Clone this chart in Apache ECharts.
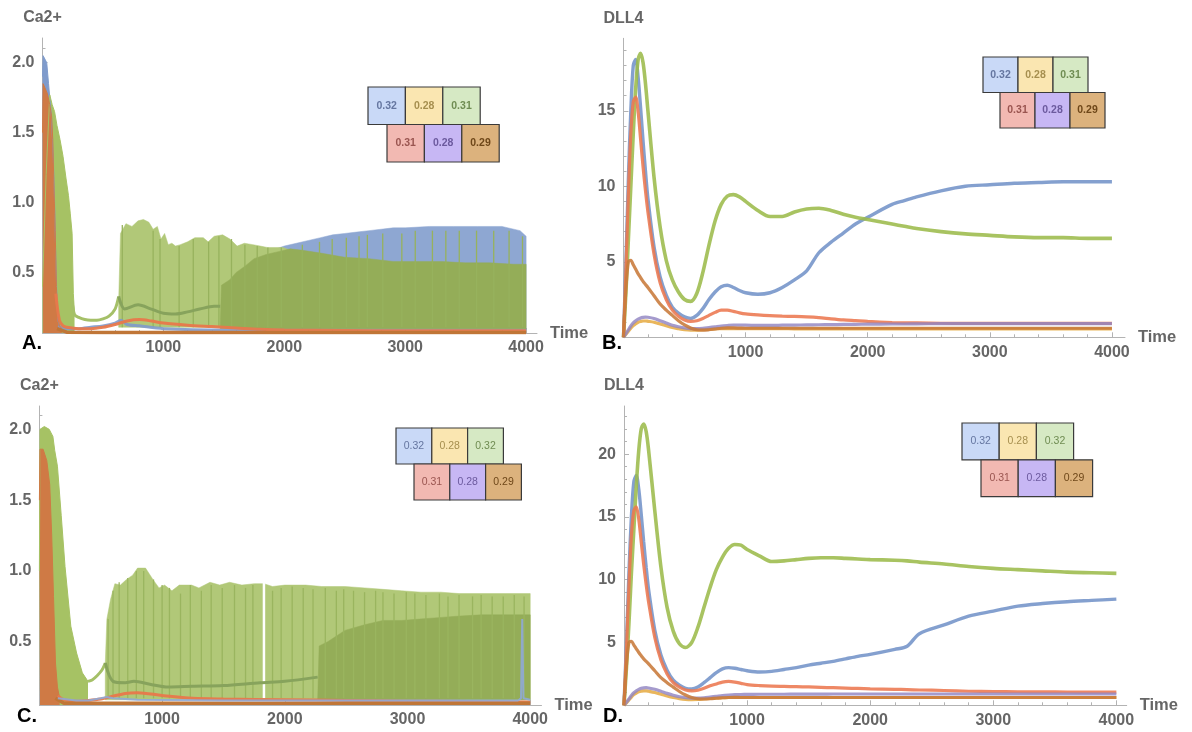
<!DOCTYPE html>
<html>
<head>
<meta charset="utf-8">
<title>Ca2+ / DLL4</title>
<script src="https://cdn.jsdelivr.net/npm/echarts@6/dist/echarts.min.js"></script>
<style>
html,body{margin:0;padding:0;background:#fff;}
#main{width:1192px;height:732px;}
</style>
</head>
<body>
<div id="main"></div>
<script>
// ---- tick labels ----
var xTicks = [1000, 2000, 3000, 4000];
var xMinorTicks = [200, 400, 600, 800, 1200, 1400, 1600, 1800, 2200, 2400, 2600, 2800, 3200, 3400, 3600, 3800];
var yTicksCa = [0.5, 1.0, 1.5, 2.0];
var yMinorCa = [0.1, 0.2, 0.3, 0.4, 0.6, 0.7, 0.8, 0.9, 1.1, 1.2, 1.3, 1.4, 1.6, 1.7, 1.8, 1.9, 2.1];
var yTicksB = [5, 10, 15];
var yMinorB = [1, 2, 3, 4, 6, 7, 8, 9, 11, 12, 13, 14, 16, 17, 18, 19];
var yTicksD = [5, 10, 15, 20];
var yMinorD = [1, 2, 3, 4, 6, 7, 8, 9, 11, 12, 13, 14, 16, 17, 18, 19, 21, 22, 23];

// ---- legends (labels per panel) ----
var legendA = ['0.32', '0.28', '0.31', '0.31', '0.28', '0.29'];
var legendB = ['0.32', '0.28', '0.31', '0.31', '0.28', '0.29'];
var legendC = ['0.32', '0.28', '0.32', '0.31', '0.28', '0.29'];
var legendD = ['0.32', '0.28', '0.32', '0.31', '0.28', '0.29'];

// ---- DLL4 panels (B, D): shared time grid ----
var timeBD = [0, 20, 40, 60, 80, 100, 120, 140, 160, 180,
  200, 250, 300, 350, 400, 450, 500, 550, 600, 650,
  700, 750, 800, 850, 900, 950, 1000, 1100, 1200, 1300,
  1400, 1500, 1600, 1700, 1800, 1900, 2000, 2200, 2300, 2400,
  2600, 2800, 3000, 3200, 3400, 3600, 3800, 4000];

var blueB = [0, 5, 10.5, 15, 18, 18.4, 17.2, 15.2, 13, 11,
  9.2, 6, 4, 2.8, 2.0, 1.6, 1.35, 1.25, 1.45, 1.9,
  2.5, 3.0, 3.35, 3.45, 3.3, 3.1, 2.95, 2.85, 2.95, 3.3,
  3.8, 4.4, 5.6, 6.3, 6.9, 7.5, 7.95, 8.8, 9.05, 9.3,
  9.7, 10.0, 10.1, 10.2, 10.25, 10.3, 10.3, 10.3];
var yellowB = [0, 0.2, 0.4, 0.6, 0.78, 0.9, 1.0, 1.05, 1.08, 1.08,
  1.06, 1.0, 0.88, 0.76, 0.65, 0.57, 0.5, 0.47, 0.47, 0.5,
  0.53, 0.56, 0.58, 0.58, 0.58, 0.58, 0.58, 0.57, 0.57, 0.57,
  0.56, 0.56, 0.56, 0.56, 0.56, 0.56, 0.56, 0.56, 0.56, 0.56,
  0.56, 0.56, 0.56, 0.56, 0.56, 0.56, 0.56, 0.56];
var greenB = [0, 3, 6.5, 10, 13.5, 16.5, 18.4, 18.8, 18.2, 16.8,
  15, 10.6, 7.3, 5.1, 3.8, 3.0, 2.5, 2.38, 2.9, 4.3,
  6.1, 7.7, 8.8, 9.35, 9.45, 9.3, 9.0, 8.4, 8.0, 8.0,
  8.3, 8.5, 8.55, 8.4, 8.15, 7.95, 7.8, 7.5, 7.35, 7.2,
  7.0, 6.85, 6.75, 6.65, 6.6, 6.6, 6.55, 6.55];
var redB = [0, 4.5, 9.5, 13.5, 15.6, 15.9, 14.9, 13.1, 11.3, 9.7,
  8.3, 5.5, 3.6, 2.5, 1.8, 1.4, 1.15, 1.05, 1.1, 1.25,
  1.45, 1.65, 1.8, 1.8, 1.72, 1.62, 1.55, 1.48, 1.43, 1.4,
  1.38, 1.35, 1.3, 1.22, 1.15, 1.1, 1.05, 0.98, 0.96, 0.95,
  0.93, 0.92, 0.92, 0.92, 0.92, 0.92, 0.92, 0.92];
var purpleB = [0, 0.25, 0.5, 0.75, 0.95, 1.1, 1.2, 1.28, 1.32, 1.34,
  1.33, 1.25, 1.1, 0.95, 0.8, 0.7, 0.62, 0.58, 0.58, 0.6,
  0.65, 0.7, 0.75, 0.78, 0.8, 0.8, 0.8, 0.79, 0.79, 0.8,
  0.81, 0.82, 0.83, 0.84, 0.85, 0.86, 0.87, 0.88, 0.88, 0.89,
  0.9, 0.9, 0.9, 0.9, 0.9, 0.9, 0.9, 0.9];
var brownB = [0, 3.2, 5.0, 5.1, 4.8, 4.5, 4.2, 3.95, 3.7, 3.5,
  3.3, 2.75, 2.2, 1.8, 1.45, 1.1, 0.82, 0.62, 0.5, 0.47,
  0.5, 0.55, 0.6, 0.62, 0.62, 0.61, 0.6, 0.6, 0.6, 0.6,
  0.6, 0.6, 0.6, 0.6, 0.6, 0.6, 0.6, 0.6, 0.6, 0.6,
  0.6, 0.6, 0.6, 0.6, 0.6, 0.6, 0.6, 0.6];

var blueD = [0, 5, 10.5, 15, 17.8, 18.3, 17.2, 15.2, 13, 11,
  9.2, 6, 4, 2.8, 2.0, 1.6, 1.35, 1.3, 1.45, 1.8,
  2.2, 2.6, 2.9, 3.0, 2.95, 2.85, 2.75, 2.65, 2.7, 2.85,
  3.0, 3.2, 3.35, 3.5, 3.7, 3.9, 4.05, 4.45, 4.7, 5.7,
  6.4, 7.1, 7.5, 7.9, 8.1, 8.25, 8.35, 8.45];
var yellowD = [0, 0.2, 0.42, 0.65, 0.85, 0.98, 1.07, 1.12, 1.15, 1.15,
  1.12, 1.02, 0.88, 0.74, 0.62, 0.53, 0.47, 0.45, 0.46, 0.5,
  0.54, 0.58, 0.6, 0.62, 0.62, 0.62, 0.62, 0.62, 0.62, 0.62,
  0.62, 0.62, 0.62, 0.62, 0.62, 0.62, 0.62, 0.62, 0.62, 0.62,
  0.62, 0.62, 0.62, 0.62, 0.62, 0.62, 0.62, 0.62];
var greenD = [0, 3, 6.5, 10.5, 14, 17.5, 20.3, 22, 22.4, 21.8,
  20.3, 15.5, 11, 7.8, 5.9, 4.9, 4.6, 5.0, 6.2, 7.8,
  9.4, 10.8, 11.8, 12.5, 12.8, 12.75, 12.4, 11.9, 11.45, 11.5,
  11.6, 11.7, 11.75, 11.75, 11.7, 11.65, 11.6, 11.55, 11.5, 11.4,
  11.25, 11.05, 10.9, 10.8, 10.7, 10.6, 10.55, 10.5];
var redD = [0, 4.5, 9.5, 13.5, 15.5, 15.8, 14.8, 13, 11.2, 9.6,
  8.2, 5.4, 3.6, 2.5, 1.8, 1.45, 1.22, 1.15, 1.2, 1.35,
  1.55, 1.7, 1.85, 1.9, 1.85, 1.75, 1.65, 1.57, 1.52, 1.5,
  1.48, 1.46, 1.43, 1.4, 1.37, 1.34, 1.31, 1.27, 1.25, 1.22,
  1.18, 1.12, 1.1, 1.08, 1.07, 1.06, 1.05, 1.05];
var purpleD = [0, 0.25, 0.5, 0.78, 1.0, 1.15, 1.27, 1.35, 1.39, 1.4,
  1.38, 1.28, 1.12, 0.95, 0.8, 0.68, 0.6, 0.57, 0.57, 0.6,
  0.66, 0.72, 0.78, 0.82, 0.85, 0.86, 0.87, 0.88, 0.88, 0.88,
  0.89, 0.89, 0.89, 0.9, 0.9, 0.9, 0.9, 0.9, 0.9, 0.9,
  0.9, 0.9, 0.9, 0.9, 0.9, 0.9, 0.9, 0.9];
var brownD = [0, 3.2, 5.0, 5.1, 4.8, 4.5, 4.2, 3.95, 3.7, 3.5,
  3.3, 2.75, 2.2, 1.8, 1.45, 1.1, 0.82, 0.62, 0.52, 0.5,
  0.52, 0.56, 0.6, 0.62, 0.63, 0.62, 0.62, 0.62, 0.62, 0.62,
  0.62, 0.62, 0.62, 0.62, 0.62, 0.62, 0.62, 0.62, 0.62, 0.62,
  0.62, 0.62, 0.62, 0.62, 0.62, 0.62, 0.62, 0.62];

// ---- Ca2+ panel A ----
var tBlueSpikeA = [0, 5, 20, 35, 50, 60, 75, 90, 100, 110, 120, 130, 150];
var blueSpikeA = [1.9, 2.05, 2.05, 2.0, 1.85, 1.75, 1.6, 1.3, 1.0, 0.6, 0.3, 0.15, 0.1];
var tOrangeSpikeA = [0, 5, 20, 40, 60, 75, 85, 95, 105, 115, 125, 140, 160];
var orangeSpikeA = [1.5, 1.85, 1.86, 1.78, 1.7, 1.62, 1.45, 1.1, 0.8, 0.4, 0.2, 0.12, 0.1];
var tGreenSpikeA = [0, 30, 60, 80, 100, 120, 145, 170, 195, 215, 230, 245, 255, 265];
var greenSpikeA = [0.4, 1.2, 1.77, 1.7, 1.65, 1.55, 1.45, 1.33, 1.17, 1.05, 0.92, 0.78, 0.35, 0.2];
var tGreenTroughA = [245, 265, 300, 350, 400, 450, 500, 550, 600, 630];
var greenTroughA = [0.3, 0.2, 0.18, 0.165, 0.16, 0.16, 0.17, 0.19, 0.24, 0.33];
var tGreenSparseA = [630, 645, 690, 740, 790, 835, 880, 915, 950, 980,
  1010, 1040, 1070, 1100, 1140, 1200, 1260, 1330, 1370, 1420,
  1490, 1550, 1610, 1670, 1740, 1800, 1860, 1930, 1990, 2050, 2060];
var greenSparseHiA = [0.3, 0.78, 0.85, 0.83, 0.87, 0.88, 0.86, 0.81, 0.83, 0.74,
  0.78, 0.70, 0.71, 0.69, 0.70, 0.72, 0.75, 0.75, 0.72, 0.76,
  0.77, 0.74, 0.69, 0.71, 0.70, 0.69, 0.68, 0.68, 0.68, 0.66, 0.11];
var greenSparseLoA = [0.11, 0.11, 0.11, 0.11, 0.11, 0.11, 0.11, 0.11, 0.11, 0.11,
  0.11, 0.11, 0.11, 0.11, 0.11, 0.11, 0.11, 0.11, 0.11, 0.11,
  0.11, 0.11, 0.11, 0.11, 0.11, 0.11, 0.11, 0.11, 0.11, 0.11, 0.11];
var tGreenDenseA = [1470, 1480, 1550, 1600, 1680, 1750, 1850, 1950, 2050, 2150,
  2300, 2500, 2700, 2900, 3100, 3300, 3500, 3700, 3900, 4000];
var greenDenseHiA = [0.1, 0.41, 0.45, 0.5, 0.55, 0.6, 0.63, 0.65, 0.67, 0.66,
  0.64, 0.61, 0.6, 0.58, 0.58, 0.58, 0.57, 0.57, 0.56, 0.56];
var greenDenseLoA = [0.1, 0.1, 0.1, 0.1, 0.1, 0.1, 0.1, 0.1, 0.1, 0.1,
  0.1, 0.1, 0.1, 0.1, 0.1, 0.1, 0.1, 0.1, 0.1, 0.1];
var tBlueBandA = [1840, 1850, 1900, 2000, 2100, 2200, 2300, 2400, 2500, 2600,
  2700, 2800, 2900, 3000, 3200, 3400, 3600, 3800, 3950, 4000];
var blueBandHiA = [0.09, 0.65, 0.66, 0.69, 0.71, 0.73, 0.75, 0.77, 0.78, 0.79,
  0.8, 0.81, 0.82, 0.82, 0.83, 0.83, 0.83, 0.83, 0.8, 0.76];
var blueBandLoA = [0.09, 0.09, 0.09, 0.09, 0.09, 0.09, 0.09, 0.09, 0.09, 0.09,
  0.09, 0.09, 0.09, 0.09, 0.09, 0.09, 0.09, 0.09, 0.09, 0.09];
var tGreenMeanA = [630, 680, 790, 900, 1000, 1100, 1200, 1300, 1420, 1470];
var greenMeanA = [0.33, 0.24, 0.27, 0.24, 0.21, 0.205, 0.22, 0.24, 0.26, 0.26];
var tBlueLineA = [130, 200, 300, 400, 500, 600, 650, 700, 800, 1000, 1500, 1850];
var blueLineA = [0.12, 0.1, 0.1, 0.11, 0.12, 0.14, 0.16, 0.13, 0.12, 0.1, 0.09, 0.09];
var tRedLineA = [110, 140, 170, 200, 300, 400, 500, 600, 700, 800,
  900, 1000, 1200, 1400, 1600, 1800, 2000, 2500, 3000, 3500, 4000];
var redLineA = [0.35, 0.16, 0.12, 0.11, 0.1, 0.1, 0.11, 0.13, 0.155, 0.165,
  0.155, 0.14, 0.125, 0.115, 0.105, 0.095, 0.09, 0.087, 0.085, 0.085, 0.085];
var tBrownLineA = [120, 200, 500, 1000, 2000, 3000, 4000];
var brownLineA = [0.1, 0.075, 0.072, 0.072, 0.072, 0.072, 0.072];
// single oscillation spikes standing out of the bands
var tStreakA = [660, 915, 972, 1130, 1247, 1374, 1459, 1563, 1674, 1776,
  1864, 1975, 2149, 2291, 2396, 2513, 2618, 2687, 2814, 2972,
  3083, 3225, 3336, 3447, 3590, 3732, 3859, 3970];
var streakTopA = [0.84, 0.8, 0.74, 0.69, 0.74, 0.72, 0.76, 0.74, 0.7, 0.69,
  0.68, 0.68, 0.7, 0.72, 0.74, 0.75, 0.76, 0.77, 0.78, 0.78,
  0.8, 0.8, 0.8, 0.8, 0.8, 0.8, 0.8, 0.76];

// ---- Ca2+ panel C ----
var tOrangeSpikeC = [0, 5, 30, 60, 84, 100, 115, 131, 147, 165];
var orangeSpikeC = [1.5, 1.86, 1.86, 1.78, 1.61, 1.26, 0.82, 0.35, 0.18, 0.1];
var tGreenSpikeC = [0, 5, 40, 80, 110, 125, 147, 178, 209, 256, 303, 350, 396];
var greenSpikeC = [1.0, 2.0, 2.02, 2.0, 1.95, 1.85, 1.74, 1.39, 1.03, 0.61, 0.42, 0.28, 0.22];
var tGreenTroughC = [396, 430, 470, 510, 537];
var greenTroughC = [0.22, 0.23, 0.26, 0.3, 0.35];
var tGreenSparseC = [537, 550, 580, 615, 660, 710, 760, 800, 865, 925,
  975, 1020, 1080, 1140, 1240, 1300, 1390, 1470, 1550, 1650,
  1750, 1830, 1900, 2000, 2170, 2300, 2490, 2650, 2800, 2950,
  3110, 3270, 3420, 3600, 3800, 3950, 4000];
var greenSparseHiC = [0.35, 0.66, 0.8, 0.91, 0.9, 0.94, 0.97, 1.02, 1.02, 0.94,
  0.88, 0.9, 0.86, 0.9, 0.9, 0.88, 0.92, 0.9, 0.92, 0.9,
  0.91, 0.91, 0.89, 0.9, 0.9, 0.89, 0.89, 0.88, 0.87, 0.86,
  0.85, 0.85, 0.84, 0.84, 0.84, 0.84, 0.84];
var greenSparseLoC = [0.09, 0.09, 0.09, 0.09, 0.09, 0.09, 0.09, 0.09, 0.09, 0.09,
  0.09, 0.09, 0.09, 0.09, 0.09, 0.09, 0.09, 0.09, 0.09, 0.09,
  0.09, 0.09, 0.09, 0.09, 0.09, 0.09, 0.09, 0.09, 0.09, 0.09,
  0.09, 0.09, 0.09, 0.09, 0.09, 0.09, 0.09];
var tGreenDenseC = [2268, 2280, 2350, 2490, 2650, 2800, 2950, 3100, 3250, 3400, 3600, 3800, 4000];
var greenDenseHiC = [0.09, 0.47, 0.5, 0.58, 0.62, 0.65, 0.65, 0.66, 0.67, 0.68, 0.69, 0.69, 0.69];
var greenDenseLoC = [0.09, 0.09, 0.09, 0.09, 0.09, 0.09, 0.09, 0.09, 0.09, 0.09, 0.09, 0.09, 0.09];
var tGreenMeanC = [537, 600, 700, 770, 900, 1050, 1250, 1500, 1800, 2000, 2268];
var greenMeanC = [0.35, 0.22, 0.21, 0.22, 0.2, 0.18, 0.185, 0.19, 0.21, 0.22, 0.25];
var tRedLineC = [150, 200, 300, 400, 500, 600, 700, 800, 1000, 1250, 1500, 2000, 2500, 3000, 3500, 4000];
var redLineC = [0.12, 0.09, 0.08, 0.085, 0.095, 0.115, 0.135, 0.14, 0.12, 0.1, 0.095, 0.09, 0.085, 0.08, 0.078, 0.075];
var tBrownLineC = [130, 200, 1000, 4000];
var brownLineC = [0.1, 0.065, 0.065, 0.065];
var tBlueLineC = [150, 300, 400, 500, 550, 600, 800, 1500, 3900, 3925, 3935, 3945, 4000];
var blueLineC = [0.1, 0.085, 0.085, 0.1, 0.11, 0.1, 0.09, 0.085, 0.085, 0.1, 0.66, 0.1, 0.09];
var tStreakC = [560, 600, 650, 720, 790, 850, 930, 1000, 1060, 1150,
  1230, 1320, 1400, 1490, 1590, 1680, 1740, 1900, 1970, 2060,
  2150, 2230, 2330, 2420, 2480, 2560, 2650, 2740, 2800, 2890,
  2990, 3060, 3150, 3260, 3330, 3420, 3530, 3600, 3690, 3780,
  3870, 3950];
var streakTopC = [0.66, 0.86, 0.92, 0.95, 1.0, 1.0, 0.94, 0.9, 0.88, 0.84,
  0.9, 0.86, 0.9, 0.88, 0.9, 0.88, 0.9, 0.86, 0.88, 0.89,
  0.88, 0.87, 0.88, 0.86, 0.87, 0.86, 0.85, 0.86, 0.85, 0.84,
  0.85, 0.84, 0.83, 0.84, 0.82, 0.83, 0.82, 0.83, 0.82, 0.82,
  0.83, 0.82];
var tGapC = [1830];
var gapTopC = [0.95];

// ---------------- layout ----------------
var grids = [
  {left: 42.5, top: 38, width: 494.5, height: 295},
  {left: 623.5, top: 38.3, width: 501.5, height: 299},
  {left: 39.4, top: 406, width: 502.1, height: 299},
  {left: 624, top: 406, width: 502.7, height: 299.3}
];
var xMax = [4090, 4107, 4092, 4084];
var yMin = [0.069, 0, 0.053, 0];
var yMax = [2.176, 19.8, 2.165, 23.83];
var yNames = ['Ca2+', 'DLL4', 'Ca2+', 'DLL4'];
var yMajor = [yTicksCa, yTicksB, yTicksCa, yTicksD];
var yMinor = [yMinorCa, yMinorB, yMinorCa, yMinorD];

var FONT = 'Liberation Sans, Arial, Helvetica, sans-serif';
var labelStyle = {color: '#666', fontFamily: FONT, fontWeight: 'bold', fontSize: 16};
var axisGray = '#b3b3b3';

var xAxes = [], yAxes = [];
for (var i = 0; i < 4; i++) {
  xAxes.push({
    gridIndex: i, type: 'value', min: 0, max: xMax[i], position: 'bottom',
    name: 'Time', nameLocation: 'end', nameGap: 13,
    nameTextStyle: Object.assign({}, labelStyle, {fontSize: 16.5}),
    axisLine: {show: true, onZero: false, lineStyle: {color: axisGray, width: 1}},
    axisTick: {show: true, inside: true, length: 5, customValues: xTicks, lineStyle: {color: axisGray}},
    axisLabel: Object.assign({customValues: xTicks, margin: 7,
      formatter: function (v) { return String(v); }}, labelStyle),
    splitLine: {show: false}
  });
  (function (k) {
    var isCa = (k === 0 || k === 2);
    yAxes.push({
      gridIndex: k, type: 'value', min: yMin[k], max: yMax[k], position: 'left',
      name: yNames[k], nameLocation: 'end', nameGap: 12,
      nameTextStyle: Object.assign({}, labelStyle),
      axisLine: {show: true, onZero: false, lineStyle: {color: axisGray, width: 1}},
      axisTick: {show: true, inside: true, length: 5, customValues: yMajor[k], lineStyle: {color: axisGray}},
      axisLabel: Object.assign({
        customValues: yMajor[k], margin: 8,
        formatter: function (v) { return isCa ? v.toFixed(1) : String(v); }
      }, labelStyle),
      splitLine: {show: false}
    });
  })(i);
}
// minor ticks
for (var j = 0; j < 4; j++) {
  xAxes.push({
    gridIndex: j, type: 'value', min: 0, max: xMax[j], position: 'bottom',
    axisLine: {show: false}, axisLabel: {show: false}, splitLine: {show: false},
    axisTick: {show: true, inside: true, length: 3, customValues: xMinorTicks, lineStyle: {color: axisGray}}
  });
  yAxes.push({
    gridIndex: j, type: 'value', min: yMin[j], max: yMax[j], position: 'left',
    axisLine: {show: false}, axisLabel: {show: false}, splitLine: {show: false},
    axisTick: {show: true, inside: true, length: 3, customValues: yMinor[j], lineStyle: {color: axisGray}}
  });
}

// ---------------- series helpers ----------------
function pairs(ts, vs) {
  return ts.map(function (t, i) { return [t, vs[i]]; });
}
function line(p, ts, vs, color, width, opacity, smooth) {
  return {
    type: 'line', xAxisIndex: p, yAxisIndex: p, data: pairs(ts, vs),
    symbol: 'none', smooth: smooth || 0, silent: true,
    lineStyle: {color: color, width: width, opacity: opacity}
  };
}
function spike(p, ts, vs, color) {
  var s = line(p, ts, vs, color, 1, 1, 0);
  s.areaStyle = {color: color, opacity: 1, origin: 'start'};
  return s;
}
// filled band between a lower and an upper envelope (dense oscillation)
function band(p, ts, lo, hi, color) {
  return {
    type: 'custom', xAxisIndex: p, yAxisIndex: p, silent: true, clip: true,
    data: ts.map(function (t, i) { return [t, lo[i], hi[i]]; }),
    encode: {x: 0, y: [1, 2]},
    renderItem: function (params, api) {
      if (params.dataIndex !== 0) return null;
      var pts = [];
      for (var a = 0; a < ts.length; a++) pts.push(api.coord([ts[a], hi[a]]));
      for (var b = ts.length - 1; b >= 0; b--) pts.push(api.coord([ts[b], lo[b]]));
      return {type: 'polygon', shape: {points: pts},
        style: {fill: color, stroke: color, lineWidth: 0.5}};
    }
  };
}
// vertical streaks: single spikes from floor up to a top value
function streaks(p, ts, floor, tops, color, width) {
  return {
    type: 'custom', xAxisIndex: p, yAxisIndex: p, silent: true, clip: true,
    data: ts.map(function (t, i) { return [t, floor, tops[i]]; }),
    encode: {x: 0, y: [1, 2]},
    renderItem: function (params, api) {
      var a = api.coord([api.value(0), api.value(1)]);
      var b = api.coord([api.value(0), api.value(2)]);
      return {type: 'line', shape: {x1: a[0], y1: a[1], x2: b[0], y2: b[1]},
        style: {stroke: color, lineWidth: width}};
    }
  };
}

var C_BLUE = '#7393c8', C_YELLOW = '#e6ac45', C_GREEN = '#9cbb4b',
    C_RED = '#ec7750', C_PURPLE = '#9185c2', C_BROWN = '#c87a3a';

var series = [];
// panel B / D
[[1, blueB, yellowB, greenB, redB, purpleB, brownB],
 [3, blueD, yellowD, greenD, redD, purpleD, brownD]].forEach(function (row) {
  var p = row[0];
  series.push(line(p, timeBD, row[1], C_BLUE, 3.4, 0.88, 0.3));
  series.push(line(p, timeBD, row[2], C_YELLOW, 3.2, 0.88, 0.3));
  series.push(line(p, timeBD, row[3], C_GREEN, 3.6, 0.88, 0.3));
  series.push(line(p, timeBD, row[4], C_RED, 3.2, 0.88, 0.3));
  series.push(line(p, timeBD, row[5], C_PURPLE, 3.2, 0.82, 0.3));
  series.push(line(p, timeBD, row[6], C_BROWN, 3.2, 0.88, 0.3));
});

// panel A
series.push(spike(0, tBlueSpikeA, blueSpikeA, '#7f9bcc'));
series.push(line(0, tBlueLineA, blueLineA, '#7f99cb', 3, 0.9, 0.3));
series.push(band(0, tBlueBandA, blueBandLoA, blueBandHiA, '#8ea7d2'));
series.push(spike(0, tGreenSpikeA, greenSpikeA, '#a6c264'));
series.push(line(0, tGreenTroughA, greenTroughA, '#a5c068', 3, 1, 0.3));
series.push(band(0, tGreenSparseA, greenSparseLoA, greenSparseHiA, '#b1c878'));
series.push(band(0, tGreenDenseA, greenDenseLoA, greenDenseHiA, '#94ad58'));
series.push(streaks(0, tStreakA, 0.11, streakTopA, '#97b25d', 1.3));
series.push(line(0, tGreenMeanA, greenMeanA, '#87a35c', 3, 1, 0.3));
series.push(spike(0, tOrangeSpikeA, orangeSpikeA, '#cf7a45'));
series.push(line(0, tRedLineA, redLineA, '#e8784b', 3, 0.95, 0.3));
series.push(line(0, tBrownLineA, brownLineA, '#c07637', 3.5, 1, 0));

// panel C
series.push(spike(2, tGreenSpikeC, greenSpikeC, '#a6c264'));
series.push(line(2, tGreenTroughC, greenTroughC, '#a5c068', 3, 1, 0.3));
series.push(band(2, tGreenSparseC, greenSparseLoC, greenSparseHiC, '#b1c878'));
series.push(band(2, tGreenDenseC, greenDenseLoC, greenDenseHiC, '#94ad58'));
series.push(streaks(2, tStreakC, 0.1, streakTopC, '#9ab55f', 1.3));
series.push(streaks(2, tGapC, 0.1, gapTopC, '#ffffff', 2.5));
series.push(line(2, tGreenMeanC, greenMeanC, '#87a35c', 3, 1, 0.3));
series.push(spike(2, tOrangeSpikeC, orangeSpikeC, '#cf7a45'));
series.push(line(2, tRedLineC, redLineC, '#e8784b', 3, 0.95, 0.3));
series.push(line(2, tBrownLineC, brownLineC, '#c07637', 3.5, 1, 0));
series.push(line(2, tBlueLineC, blueLineC, '#8fa8d6', 2, 0.9, 0));

// ---------------- legend boxes & panel letters ----------------
var legendFill = ['#c9d9f7', '#fae6b1', '#d6e9c4', '#f2b9b2', '#c7b7f4', '#dcb27d'];
var legendInk = ['#6576a0', '#a68f4f', '#6f8c52', '#9a5550', '#6c5a9e', '#6e4719'];
var legendSets = [legendA, legendB, legendC, legendD];
var legendPos = [
  {x: 368, y: 87, w: 37.4, h: 37.5, dx: 19, bold: true},
  {x: 983, y: 57, w: 35, h: 35.5, dx: 17, bold: true},
  {x: 396, y: 428, w: 35.8, h: 36, dx: 18, bold: false},
  {x: 962, y: 423, w: 37.2, h: 36.8, dx: 19, bold: false}
];
var graphics = [];
legendSets.forEach(function (labels, p) {
  var L = legendPos[p];
  labels.forEach(function (txt, k) {
    var row = k < 3 ? 0 : 1, col = k % 3;
    var bx = L.x + (row ? L.dx : 0) + col * L.w;
    var by = L.y + row * L.h;
    graphics.push({type: 'rect', shape: {x: bx, y: by, width: L.w, height: L.h},
      style: {fill: legendFill[k], stroke: '#3a3a3a', lineWidth: 1.2}, silent: true, z: 100});
    graphics.push({type: 'text', x: bx + L.w / 2, y: by + L.h / 2, silent: true, z: 101,
      style: {text: txt, fill: legendInk[k], align: 'center', verticalAlign: 'middle',
        font: (L.bold ? 'bold ' : '') + '10.5px ' + FONT}});
  });
});
var letters = [['A.', 22, 343], ['B.', 602, 343], ['C.', 17, 716], ['D.', 603, 716]];
letters.forEach(function (l) {
  graphics.push({type: 'text', x: l[1], y: l[2], silent: true, z: 101,
    style: {text: l[0], fill: '#000', align: 'left', verticalAlign: 'middle',
      font: 'bold 20px ' + FONT}});
});

var chart = echarts.init(document.getElementById('main'));
chart.setOption({
  animation: false,
  backgroundColor: '#fff',
  grid: grids,
  xAxis: xAxes,
  yAxis: yAxes,
  series: series,
  graphic: graphics
});
</script>
</body>
</html>
